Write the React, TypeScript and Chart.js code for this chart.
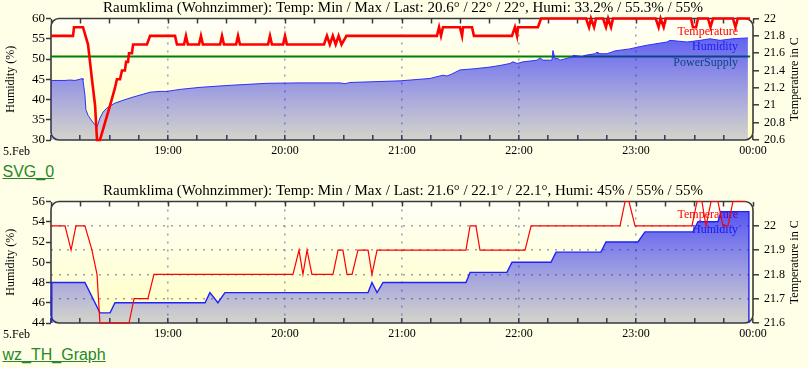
import React, { useEffect, useRef } from 'react';
import { Chart, registerables } from 'chart.js';

Chart.register(...registerables);

// ---------- texts & tick labels ----------
const title1 = 'Raumklima (Wohnzimmer): Temp: Min / Max / Last: 20.6° / 22° / 22°, Humi: 33.2% / 55.3% / 55%';
const title2 = 'Raumklima (Wohnzimmer): Temp: Min / Max / Last: 21.6° / 22.1° / 22.1°, Humi: 45% / 55% / 55%';
const linkNames = ['SVG_0', 'wz_TH_Graph'];

// x axis: minutes after 18:00 (5.Feb)
const quarterTicks = [0, 15, 30, 45, 60, 75, 90, 105, 120, 135, 150, 165, 180, 195, 210, 225, 240, 255, 270, 285, 300, 315, 330, 345, 360];
const hourTickMinutes = [0, 60, 120, 180, 240, 300, 360];
const hourTickLabels = ['5.Feb', '19:00', '20:00', '21:00', '22:00', '23:00', '00:00'];

const left1Ticks = [30, 35, 40, 45, 50, 55, 60];
const right1Ticks = [20.6, 20.8, 21, 21.2, 21.4, 21.6, 21.8, 22];
const left2Ticks = [44, 46, 48, 50, 52, 54, 56];
const right2Ticks = [21.6, 21.7, 21.8, 21.9, 22, 22.1];

// ---------- chart 1 series: [minute, value] ----------
const temp1: [number, number][] = [
  [0, 21.8], [11.3, 21.8], [11.8, 21.9], [16.4, 21.9], [19.0, 21.7], [21.0, 21.3], [22.6, 21.0], [23.6, 20.6],
  [25.1, 20.6], [27.7, 20.8], [30.3, 21.0], [32.8, 21.2], [33.8, 21.3], [35.4, 21.3], [36.4, 21.4], [37.9, 21.4],
  [38.5, 21.5], [39.5, 21.5], [40.0, 21.6], [41.5, 21.6], [42.1, 21.7], [49.2, 21.7], [50.8, 21.8], [63.6, 21.8],
  [64.6, 21.7], [68.2, 21.7], [69.2, 21.8], [70.2, 21.7], [75.9, 21.7], [76.9, 21.8], [77.9, 21.7], [86.7, 21.7],
  [87.7, 21.8], [88.7, 21.7], [94.9, 21.7], [95.9, 21.8], [96.9, 21.7], [111.3, 21.7], [112.3, 21.8], [113.3, 21.7],
  [119, 21.7], [120, 21.8], [121, 21.7], [140.0, 21.7], [141.5, 21.8], [143, 21.7], [144.5, 21.8], [146, 21.7],
  [147.5, 21.8], [149, 21.7], [151.5, 21.8], [197.9, 21.8], [199, 21.9], [200, 21.8], [201, 21.9], [209.7, 21.9],
  [210.8, 21.8], [211.3, 21.9], [215.9, 21.9], [216.9, 21.8], [236.4, 21.8], [237.9, 21.9], [239.0, 21.8], [239.5, 21.9],
  [249.7, 21.9], [251.3, 22.0], [274.4, 22], [275.9, 21.9], [276.9, 22], [278.5, 21.9], [279.5, 22], [283.1, 22],
  [284.6, 21.9], [285.7, 22], [287.2, 21.9], [288.2, 22], [310.1, 22], [311.6, 21.9], [312.6, 22], [314.2, 21.9],
  [315.2, 22], [328.2, 22], [329.2, 21.9], [330.8, 21.9], [331.8, 22], [336.9, 22], [338.2, 21.9], [339.5, 22],
  [349.7, 22], [351.0, 21.9], [352.2, 22], [358.5, 22],
];
const humi1: [number, number][] = [
  [0, 44.7], [7.2, 44.7], [9.7, 44.8], [12.3, 44.7], [14.9, 45.0], [15.9, 45.2], [16.4, 44.8], [17.4, 41.1],
  [17.9, 37.5], [19.0, 36.1], [21.0, 34.7], [22.6, 33.7], [23.6, 33.2], [25.1, 35.4], [26.7, 36.9], [28.7, 37.9],
  [30.3, 38.4], [32.8, 39.1], [36.9, 39.8], [42.1, 40.6], [47.2, 41.3], [50.8, 41.8], [55.9, 42.0], [59.5, 42.0],
  [66.2, 42.5], [76.4, 43.0], [91.8, 43.5], [110.8, 44.0], [127.7, 44.1], [148.2, 44.1], [150.8, 43.9], [153.3, 44.2],
  [179.0, 44.6], [194.4, 45.2], [201.0, 46.0], [203.1, 45.8], [205.6, 46.3], [209.7, 47.3], [217.4, 47.6], [225.1, 48.0],
  [230.3, 48.4], [235.4, 48.9], [236.9, 49.3], [239.0, 48.9], [242.1, 49.3], [249.2, 49.7], [250.8, 50.3], [252.3, 49.7],
  [256.9, 49.7], [257.4, 52.1], [258.5, 50.1], [260.0, 50.1], [261.0, 49.7], [267.2, 50.5], [267.7, 50.9], [272.3, 50.6],
  [273.8, 50.9], [279.0, 51.3], [280.0, 51.7], [280.5, 51.3], [285.1, 51.3], [289.2, 52.0], [296.9, 52.5], [300.5, 52.9],
  [305.6, 53.4], [315.9, 54.2], [317.4, 54.6], [326.1, 54.2], [332.8, 54.6], [337.9, 55.0], [343.1, 54.6], [349.7, 55.0],
  [357.4, 55.2],
];
const power1: [number, number][] = [[0, 50.6], [358.5, 50.6]];

// ---------- chart 2 series ----------
const temp2: [number, number][] = [
  [0, 22.0], [7.2, 22.0], [10.3, 21.9], [12.8, 22.0], [17.4, 22.0], [21.0, 21.9], [23.6, 21.8], [25.1, 21.6],
  [40.0, 21.6], [42.6, 21.7], [49.7, 21.7], [52.8, 21.8], [124.1, 21.8], [127.2, 21.9], [129.2, 21.8], [131.3, 21.9],
  [133.8, 21.8], [144.6, 21.8], [147.2, 21.9], [149.7, 21.9], [151.8, 21.8], [154.4, 21.8], [157.4, 21.9], [162.6, 21.9],
  [164.6, 21.8], [167.2, 21.9], [212.8, 21.9], [214.9, 22.0], [217.9, 22.0], [220.0, 21.9], [243.1, 21.9], [246.2, 22.0],
  [291.8, 22.0], [294.4, 22.1], [296.4, 22.1], [299.5, 22.0], [328.7, 22.0], [331.3, 22.1], [333.8, 22.1], [335.9, 22.0],
  [338.5, 22.1], [342.0, 22.1], [344.6, 22.0], [347.2, 22.0], [349.7, 22.1], [356.4, 22.1],
];
const humi2: [number, number][] = [
  [0.4, 44], [0.4, 48], [17.4, 48], [25.1, 45], [30.3, 45], [32.8, 46], [79.0, 46], [81.5, 47], [85.6, 46], [89.2, 47],
  [162.6, 47], [164.6, 48], [167.2, 47], [170.3, 48], [212.8, 48], [214.9, 49], [233.8, 49], [236.4, 50], [256.4, 50],
  [259.0, 51], [282.0, 51], [284.6, 52], [301.0, 52], [304.6, 53], [329.2, 53], [331.8, 54], [342.0, 54], [343.6, 55],
  [357.9, 55], [357.9, 44],
];

// ---------- styling ----------
const SERIF = '"Liberation Serif", "Times New Roman", serif';
const SANS = '"Liberation Sans", Arial, sans-serif';
const PAGE_BG = '#FFFFE7';

type Series = {
  label: string; axis: 'y' | 'y2'; pts: [number, number][]; color: string; width: number; fill: boolean; order: number;
};
type PlotCfg = {
  title: string;
  leftMin: number; leftMax: number; leftTicks: number[];
  rightMin: number; rightMax: number; rightTicks: number[];
  rightGrid: boolean;
  series: Series[];
};

function fillGradient(c: any) {
  const chart = c.chart;
  const a = chart.chartArea;
  if (!a) return 'rgba(0,0,255,0.4)';
  const g = chart.ctx.createLinearGradient(0, a.top, 0, a.bottom);
  g.addColorStop(0, 'rgba(10,10,245,0.74)');
  g.addColorStop(1, 'rgba(40,40,225,0.2)');
  return g;
}

function decorPlugin(cfg: PlotCfg) {
  return {
    id: 'fhemDecor',
    beforeDraw(chart: any) {
      const { ctx, chartArea: a } = chart;
      ctx.save();
      const g = ctx.createLinearGradient(0, a.top, 0, a.bottom);
      g.addColorStop(0, '#FFFFF7');
      g.addColorStop(1, '#FFFFC4');
      ctx.fillStyle = g;
      ctx.beginPath();
      ctx.roundRect(a.left, a.top, a.right - a.left, a.bottom - a.top, 8);
      ctx.fill();
      ctx.restore();
    },
    beforeDatasetsDraw(chart: any) {
      const { ctx, chartArea: a } = chart;
      ctx.save();
      ctx.strokeStyle = '#3a3a3a';
      ctx.lineWidth = 1.6;
      ctx.beginPath();
      ctx.roundRect(a.left, a.top, a.right - a.left, a.bottom - a.top, 8);
      ctx.stroke();
      ctx.font = `12px ${SERIF}`;
      ctx.textAlign = 'right';
      ctx.textBaseline = 'middle';
      cfg.series.forEach((s, i) => {
        ctx.fillStyle = s.color;
        ctx.fillText(s.label, a.right - 15, a.top + 13 + i * 15.5);
      });
      ctx.restore();
    },
    afterDraw(chart: any) {
      const { ctx, chartArea: a } = chart;
      ctx.save();
      ctx.fillStyle = '#000';
      ctx.font = `15px ${SERIF}`;
      ctx.textAlign = 'center';
      ctx.textBaseline = 'middle';
      ctx.fillText(cfg.title, (a.left + a.right) / 2 + 1, 8.5);
      ctx.font = `12px ${SERIF}`;
      ctx.textAlign = 'left';
      ctx.fillText(hourTickLabels[0], 3, a.bottom + 11.5);
      ctx.translate(794.5, (a.top + a.bottom) / 2);
      ctx.rotate(-Math.PI / 2);
      ctx.textAlign = 'center';
      ctx.fillText('Temperature in C', 0, 0);
      ctx.restore();
    },
  };
}

function makeConfig(cfg: PlotCfg): any {
  const fmt = (v: number) => String(Math.round(v * 10) / 10);
  return {
    type: 'line',
    data: {
      datasets: cfg.series.map((s) => ({
        label: s.label,
        data: s.pts.map(([x, y]) => ({ x, y })),
        yAxisID: s.axis,
        borderColor: s.color,
        borderWidth: s.width,
        backgroundColor: s.fill ? fillGradient : 'transparent',
        fill: s.fill ? 'start' : false,
        pointRadius: 0,
        tension: 0,
        order: s.order,
        clip: false,
      })),
    },
    options: {
      animation: false,
      responsive: false,
      devicePixelRatio: 1,
      layout: { padding: { top: 18.5, left: 0, right: 0, bottom: 0 } },
      plugins: { legend: { display: false }, tooltip: { enabled: false }, title: { display: false } },
      scales: {
        x: {
          type: 'linear', position: 'bottom', min: 0, max: 360,
          afterFit: (s: any) => { s.height = 20; },
          afterBuildTicks: (s: any) => { s.ticks = quarterTicks.map((v) => ({ value: v })); },
          ticks: {
            autoSkip: false, maxRotation: 0, padding: 9, color: '#000', font: { family: SERIF, size: 12 },
            callback: (v: number) => {
              const i = hourTickMinutes.indexOf(v);
              return i > 0 ? hourTickLabels[i] : '';
            },
          },
          grid: {
            drawOnChartArea: true,
            color: (c: any) => (c.tick && c.tick.value % 60 === 0 && c.tick.value > 0 && c.tick.value < 360 ? 'rgba(130,130,160,0.75)' : 'rgba(0,0,0,0)'),
            lineWidth: 1.6,
            tickLength: -5, tickColor: '#3a3a3a', tickWidth: 1.5,
          },
          border: { display: false, dash: [2, 6] },
        },
        xTop: {
          type: 'linear', position: 'top', min: 0, max: 360,
          afterFit: (s: any) => { s.height = 0; },
          afterBuildTicks: (s: any) => { s.ticks = quarterTicks.map((v) => ({ value: v })); },
          ticks: { display: false },
          grid: { drawOnChartArea: false, tickLength: -5, tickColor: '#3a3a3a', tickWidth: 1.5 },
          border: { display: false },
        },
        y: {
          position: 'left', min: cfg.leftMin, max: cfg.leftMax,
          afterFit: (s: any) => { s.width = 51; },
          afterBuildTicks: (s: any) => { s.ticks = cfg.leftTicks.map((v) => ({ value: v })); },
          ticks: { autoSkip: false, padding: 1, color: '#000', font: { family: SERIF, size: 13 } },
          grid: { drawOnChartArea: false, tickLength: 5, tickColor: '#3a3a3a', tickWidth: 1.5 },
          border: { display: false },
          title: { display: true, text: 'Humidity (%)', color: '#000', font: { family: SERIF, size: 12 }, padding: { top: 4, bottom: 0 } },
        },
        y2: {
          position: 'right', min: cfg.rightMin, max: cfg.rightMax,
          afterFit: (s: any) => { s.width = 55; },
          afterBuildTicks: (s: any) => { s.ticks = cfg.rightTicks.map((v) => ({ value: v })); },
          ticks: {
            autoSkip: false, padding: 5, color: '#000', font: { family: SERIF, size: 12 },
            callback: (v: number) => (Math.abs(v - cfg.rightMax) < 1e-6 && cfg.rightGrid ? '' : fmt(v)),
          },
          grid: {
            drawOnChartArea: cfg.rightGrid,
            color: (c: any) => {
              const v = c.tick ? c.tick.value : cfg.rightMin;
              return Math.abs(v - cfg.rightMin) < 1e-6 || Math.abs(v - cfg.rightMax) < 1e-6 ? 'rgba(0,0,0,0)' : 'rgba(130,130,160,0.75)';
            },
            lineWidth: 1.6,
            tickLength: 6,
            tickColor: (c: any) => (cfg.rightGrid && c.tick && Math.abs(c.tick.value - cfg.rightMax) < 1e-6 ? 'rgba(0,0,0,0)' : '#3a3a3a'),
            tickWidth: 1.5,
          },
          border: { display: false, dash: [2, 6] },
        },
      },
    },
    plugins: [decorPlugin(cfg)],
  };
}

const plot1: PlotCfg = {
  title: title1,
  leftMin: 30, leftMax: 60, leftTicks: left1Ticks,
  rightMin: 20.6, rightMax: 22, rightTicks: right1Ticks,
  rightGrid: false,
  series: [
    { label: 'Temperature', axis: 'y2', pts: temp1, color: '#ff0000', width: 2.6, fill: false, order: 1 },
    { label: 'Humidity', axis: 'y', pts: humi1, color: '#3030ff', width: 1, fill: true, order: 2 },
    { label: 'PowerSupply', axis: 'y', pts: power1, color: '#008000', width: 2, fill: false, order: 3 },
  ],
};

const plot2: PlotCfg = {
  title: title2,
  leftMin: 44, leftMax: 56, leftTicks: left2Ticks,
  rightMin: 21.6, rightMax: 22.1, rightTicks: right2Ticks,
  rightGrid: true,
  series: [
    { label: 'Temperature', axis: 'y2', pts: temp2, color: '#ff0000', width: 1.2, fill: false, order: 1 },
    { label: 'Humidity', axis: 'y', pts: humi2, color: '#2020ff', width: 1.4, fill: true, order: 2 },
  ],
};

function Plot({ cfg, top, link }: { cfg: PlotCfg; top: number; link: string }) {
  const ref = useRef<HTMLCanvasElement | null>(null);
  useEffect(() => {
    if (!ref.current) return;
    const chart = new Chart(ref.current, makeConfig(cfg));
    return () => chart.destroy();
  }, [cfg]);
  return (
    <>
      <canvas ref={ref} width={808} height={160} style={{ position: 'absolute', left: 0, top, width: 808, height: 160 }} />
      <a
        href="#"
        onClick={(e) => e.preventDefault()}
        style={{
          position: 'absolute', left: 2.5, top: top + 163, font: `16px ${SANS}`, lineHeight: '18px',
          color: '#278727', textDecoration: 'underline', whiteSpace: 'nowrap',
        }}
      >
        {link}
      </a>
    </>
  );
}

export default function App() {
  useEffect(() => {
    document.body.style.margin = '0';
    document.body.style.background = PAGE_BG;
  }, []);
  return (
    <div style={{ position: 'fixed', left: 0, top: 0, width: 808, height: 368, background: PAGE_BG, overflow: 'hidden' }}>
      <Plot cfg={plot1} top={0} link={linkNames[0]} />
      <Plot cfg={plot2} top={182.5} link={linkNames[1]} />
    </div>
  );
}
